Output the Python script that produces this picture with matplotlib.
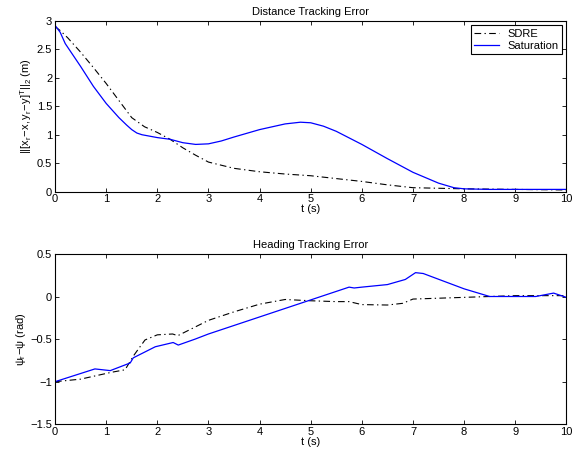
import numpy as np
import matplotlib
matplotlib.use("Agg")
import matplotlib.pyplot as plt

plt.rcParams["font.family"] = ["Liberation Sans", "DejaVu Sans"]
plt.rcParams["mathtext.fontset"] = "custom"
plt.rcParams["mathtext.rm"] = "Liberation Sans"
plt.rcParams["mathtext.it"] = "Liberation Sans"
plt.rcParams["mathtext.sf"] = "Liberation Sans"

# distance tracking error
t_dist = [0, 0.1, 0.25, 0.5, 0.75, 1.0, 1.25, 1.5, 1.75, 2.0, 2.25, 2.5, 2.75, 3.0,
          3.5, 4.0, 4.5, 5.0, 5.5, 6.0, 6.5, 7.0, 7.5, 8.0, 8.5, 9.0, 9.5, 10.0]
sdre_dist = [2.9, 2.83, 2.7, 2.45, 2.18, 1.9, 1.6, 1.3, 1.14, 1.04, 0.92, 0.77, 0.64, 0.52,
             0.41, 0.35, 0.31, 0.28, 0.23, 0.18, 0.12, 0.07, 0.06, 0.05, 0.045, 0.04, 0.035, 0.03]
t_sat = [0, 0.1, 0.2, 0.5, 0.75, 1.0, 1.25, 1.4, 1.5, 1.6, 1.7, 2.0, 2.25, 2.5, 2.75, 3.0, 3.25,
         3.5, 4.0, 4.5, 4.8, 5.0, 5.25, 5.5, 6.0, 6.5, 7.0, 7.5, 7.8, 8.0, 8.5, 9.0, 10.0]
sat_dist = [2.92, 2.8, 2.6, 2.2, 1.85, 1.55, 1.3, 1.17, 1.09, 1.03, 1.0, 0.95, 0.92, 0.86, 0.83,
            0.84, 0.89, 0.96, 1.09, 1.19, 1.22, 1.21, 1.15, 1.06, 0.83, 0.58, 0.34, 0.15, 0.07,
            0.05, 0.04, 0.04, 0.04]

# heading tracking error
t_head_sdre = [0, 0.5, 1.1, 1.37, 1.53, 1.65, 1.76, 2.0, 2.3, 2.4, 2.7, 3.0, 3.5, 4.0, 4.5,
               5.0, 5.5, 5.75, 6.0, 6.5, 6.8, 7.0, 7.5, 8.0, 8.5, 9.0, 9.5, 10.0]
sdre_head = [-1.0, -0.97, -0.89, -0.86, -0.7, -0.6, -0.51, -0.45, -0.44, -0.46, -0.37, -0.28,
             -0.18, -0.09, -0.035, -0.05, -0.06, -0.06, -0.095, -0.1, -0.08, -0.03, -0.02,
             -0.01, 0.0, 0.01, 0.01, 0.01]
t_head_sat = [0, 0.78, 1.08, 1.47, 1.53, 1.96, 2.31, 2.41, 2.74, 3.0, 4.0, 5.0, 5.75, 5.85, 6.0,
              6.5, 6.85, 7.05, 7.2, 8.0, 8.5, 9.0, 9.4, 9.75, 10.0]
sat_head = [-1.0, -0.85, -0.87, -0.78, -0.72, -0.59, -0.54, -0.57, -0.5, -0.44, -0.24, -0.04,
            0.11, 0.10, 0.11, 0.14, 0.2, 0.28, 0.27, 0.09, 0.0, 0.0, 0.0, 0.04, -0.01]

dashdot = (0, (6, 3, 1.2, 3))

fig = plt.figure(figsize=(5.72, 4.63), dpi=100)
ax1 = fig.add_axes([0.0962, 0.586, 0.894, 0.369])
ax2 = fig.add_axes([0.0962, 0.0836, 0.894, 0.368])

ax1.plot(t_dist, sdre_dist, color="black", lw=0.8, ls=dashdot, label="SDRE")
ax1.plot(t_sat, sat_dist, color="blue", lw=0.9, label="Saturation")
ax1.set_xlim(0, 10)
ax1.set_ylim(0, 3)
ax1.set_yticks(np.arange(0, 3.01, 0.5))
ax1.set_yticklabels(["0", "0.5", "1", "1.5", "2", "2.5", "3"])
ax1.set_title("Distance Tracking Error", fontsize=8, pad=4)
ax1.set_xlabel("t (s)", fontsize=8, labelpad=0)
ax1.set_ylabel(r"$||[x_r\!-\!x, y_r\!-\!y]^T||_2$ (m)", fontsize=8, labelpad=2)
leg = ax1.legend(loc="upper right", fontsize=8, fancybox=False, edgecolor="black",
                 framealpha=1, borderaxespad=0.4, handlelength=2.2, borderpad=0.3,
                 labelspacing=0.2)
leg.get_frame().set_linewidth(0.8)

ax2.plot(t_head_sdre, sdre_head, color="black", lw=0.8, ls=dashdot)
ax2.plot(t_head_sat, sat_head, color="blue", lw=0.9)
ax2.set_xlim(0, 10)
ax2.set_ylim(-1.5, 0.5)
ax2.set_yticks([-1.5, -1, -0.5, 0, 0.5])
ax2.set_yticklabels(["\u22121.5", "\u22121", "\u22120.5", "0", "0.5"])
ax2.set_title("Heading Tracking Error", fontsize=8, pad=4)
ax2.set_xlabel("t (s)", fontsize=8, labelpad=0)
ax2.set_ylabel(r"$\psi_r\!-\!\psi$ (rad)", fontsize=8, labelpad=2)

for ax in (ax1, ax2):
    ax.set_xticks(range(0, 11))
    ax.tick_params(direction="in", length=3, width=0.6, labelsize=8, top=True, right=True, pad=2)
    for s in ax.spines.values():
        s.set_linewidth(0.8)

fig.savefig("out.png", dpi=100)
